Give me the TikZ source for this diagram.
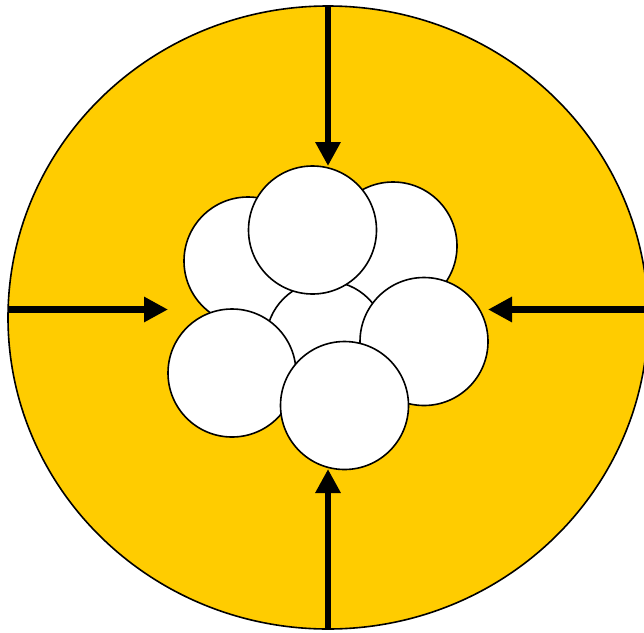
\documentclass[tikz,border=0pt]{standalone}
\usetikzlibrary{arrows.meta,shapes.geometric}
\definecolor{gold}{HTML}{FFCC00}
\tikzset{
  ball/.style={circle, draw=black, fill=white, line width=1.6pt, minimum size=128pt, inner sep=0pt},
  push/.style={line width=6.5pt, -{Triangle[length=24pt,width=24pt]}},
}
\begin{document}
\begin{tikzpicture}[x=1pt,y=-1pt]
\useasboundingbox (0,0) rectangle (644,632);
\node[ellipse, draw=black, fill=gold, line width=1.6pt, minimum width=640pt, minimum height=623pt, inner sep=0pt] (big) at (328,317.5) {};
\node[ball] (lt) at (248,261) {};
\node[ball] (rt) at (393,246) {};
\node[ball, minimum size=120pt] (mid) at (326,341) {};
\node[ball] (top) at (312.5,230) {};
\node[ball] (rr) at (424,341.5) {};
\node[ball] (lb) at (232,373) {};
\node[ball] (bot) at (344.5,405.5) {};
\coordinate (n) at (328,6);
\coordinate (s) at (328,629);
\coordinate (w) at (8,309.5);
\coordinate (e) at (648,309.5);
\coordinate (nt) at (328,166);
\coordinate (st) at (328,469);
\coordinate (wt) at (168,309.5);
\coordinate (et) at (488,309.5);
\draw[push] (n) -- (nt);
\draw[push] (s) -- (st);
\draw[push] (w) -- (wt);
\draw[push] (e) -- (et);
\end{tikzpicture}
\end{document}
